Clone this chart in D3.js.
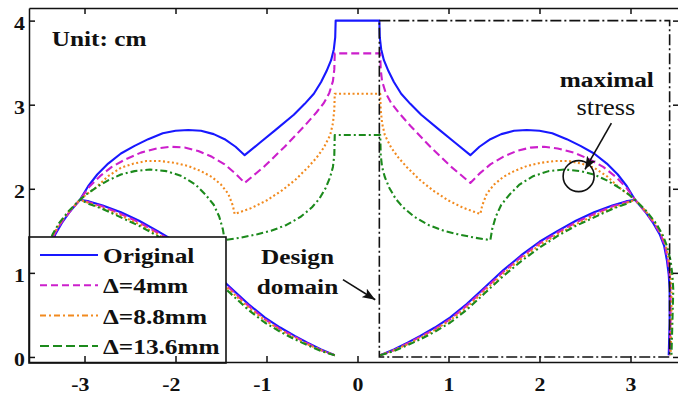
<!DOCTYPE html>
<html>
<head>
<meta charset="utf-8">
<title>Design domain</title>
<script src="https://cdn.jsdelivr.net/npm/d3@7"></script>
<style>
  body { margin: 0; background: #fff; }
  svg { display: block; font-family: "Liberation Serif", "Times New Roman", serif; }
</style>
</head>
<body>
<div id="chart"></div>
<script>
// tick values and series names
var xTicks = [-3, -2, -1, 0, 1, 2, 3];
var yTicks = [0, 1, 2, 3, 4];
var seriesNames = ["Original", "\u0394=4mm", "\u0394=8.8mm", "\u0394=13.6mm"];

// upper outline: right half and left half, each listed from the centre outward
var blueUpperR = [[0.24,4.00],[0.245,3.80],[0.26,3.66],[0.29,3.53],[0.34,3.40],[0.40,3.27],[0.48,3.13],[0.58,3.01],[0.70,2.88],[0.90,2.70],[1.07,2.55],[1.24,2.40],[1.34,2.50],[1.46,2.59],[1.58,2.65],[1.72,2.69],[1.86,2.70],[2.00,2.69],[2.14,2.66],[2.30,2.59],[2.45,2.51],[2.60,2.42],[2.74,2.30],[2.86,2.17],[2.96,2.03],[3.05,1.87],[3.16,1.73],[3.25,1.59],[3.32,1.46],[3.37,1.32],[3.40,1.15],[3.42,0.98],[3.43,0.80],[3.43,0.40],[3.42,0.02]];
var blueUpperL = [[-0.24,4.00],[-0.245,3.80],[-0.26,3.66],[-0.29,3.53],[-0.34,3.40],[-0.40,3.27],[-0.48,3.13],[-0.58,3.01],[-0.70,2.88],[-0.90,2.70],[-1.07,2.55],[-1.24,2.40],[-1.34,2.50],[-1.46,2.59],[-1.58,2.65],[-1.72,2.69],[-1.86,2.70],[-2.00,2.69],[-2.14,2.66],[-2.30,2.59],[-2.45,2.51],[-2.60,2.42],[-2.74,2.30],[-2.86,2.17],[-2.96,2.03],[-3.05,1.87],[-3.16,1.73],[-3.25,1.59],[-3.32,1.46],[-3.37,1.32],[-3.40,1.15],[-3.42,0.98],[-3.43,0.80],[-3.43,0.40],[-3.42,0.02]];
var magUpperR = [[0.25,3.61],[0.255,3.42],[0.27,3.28],[0.31,3.14],[0.37,3.02],[0.45,2.91],[0.58,2.75],[0.80,2.50],[1.02,2.27],[1.24,2.07],[1.34,2.18],[1.46,2.29],[1.60,2.38],[1.75,2.45],[1.90,2.49],[2.05,2.50],[2.20,2.48],[2.38,2.43],[2.55,2.35],[2.70,2.26],[2.83,2.15],[2.95,2.02],[3.05,1.87],[3.16,1.73],[3.26,1.59],[3.33,1.46],[3.38,1.32],[3.41,1.15],[3.43,0.98],[3.44,0.80],[3.44,0.40],[3.43,0.02]];
var magUpperL = [[-0.25,3.61],[-0.255,3.42],[-0.27,3.28],[-0.31,3.14],[-0.37,3.02],[-0.45,2.91],[-0.58,2.75],[-0.80,2.50],[-1.02,2.27],[-1.24,2.07],[-1.34,2.18],[-1.46,2.29],[-1.60,2.38],[-1.75,2.45],[-1.90,2.49],[-2.05,2.50],[-2.20,2.48],[-2.38,2.43],[-2.55,2.35],[-2.70,2.26],[-2.83,2.15],[-2.95,2.02],[-3.05,1.87],[-3.16,1.73],[-3.26,1.59],[-3.33,1.46],[-3.38,1.32],[-3.41,1.15],[-3.43,0.98],[-3.44,0.80],[-3.44,0.40],[-3.43,0.02]];
var orgUpperR = [[0.25,3.13],[0.255,2.94],[0.27,2.78],[0.30,2.64],[0.37,2.49],[0.45,2.37],[0.54,2.26],[0.68,2.11],[0.83,1.98],[1.00,1.86],[1.17,1.77],[1.35,1.70],[1.37,1.80],[1.42,1.94],[1.50,2.05],[1.60,2.14],[1.72,2.21],[1.86,2.27],[2.02,2.31],[2.17,2.33],[2.32,2.33],[2.46,2.30],[2.60,2.25],[2.74,2.15],[2.88,2.01],[2.97,1.94],[3.05,1.87],[3.17,1.73],[3.27,1.59],[3.34,1.46],[3.39,1.32],[3.42,1.15],[3.44,0.98],[3.45,0.80],[3.45,0.40],[3.44,0.02]];
var orgUpperL = [[-0.25,3.13],[-0.255,2.94],[-0.27,2.78],[-0.30,2.64],[-0.37,2.49],[-0.45,2.37],[-0.54,2.26],[-0.68,2.11],[-0.83,1.98],[-1.00,1.86],[-1.17,1.77],[-1.35,1.70],[-1.37,1.80],[-1.42,1.94],[-1.50,2.05],[-1.60,2.14],[-1.72,2.21],[-1.86,2.27],[-2.02,2.31],[-2.17,2.33],[-2.32,2.33],[-2.46,2.30],[-2.60,2.25],[-2.74,2.15],[-2.88,2.01],[-2.97,1.94],[-3.05,1.87],[-3.17,1.73],[-3.27,1.59],[-3.34,1.46],[-3.39,1.32],[-3.42,1.15],[-3.44,0.98],[-3.45,0.80],[-3.45,0.40],[-3.44,0.02]];
var grnUpperR = [[0.25,2.64],[0.255,2.40],[0.27,2.26],[0.30,2.14],[0.35,2.01],[0.42,1.88],[0.50,1.78],[0.62,1.67],[0.78,1.57],[0.95,1.50],[1.10,1.46],[1.28,1.42],[1.46,1.39],[1.48,1.52],[1.52,1.67],[1.58,1.81],[1.67,1.93],[1.78,2.05],[1.93,2.15],[2.10,2.21],[2.28,2.23],[2.45,2.21],[2.60,2.17],[2.74,2.10],[2.85,2.03],[2.96,1.95],[3.05,1.87],[3.17,1.74],[3.28,1.59],[3.35,1.46],[3.40,1.32],[3.44,1.15],[3.46,0.98],[3.47,0.80],[3.46,0.40],[3.45,0.02]];
var grnUpperL = [[-0.25,2.64],[-0.255,2.40],[-0.27,2.26],[-0.30,2.14],[-0.35,2.01],[-0.42,1.88],[-0.50,1.78],[-0.62,1.67],[-0.78,1.57],[-0.95,1.50],[-1.10,1.46],[-1.28,1.42],[-1.46,1.39],[-1.48,1.52],[-1.52,1.67],[-1.58,1.81],[-1.67,1.93],[-1.78,2.05],[-1.93,2.15],[-2.10,2.21],[-2.28,2.23],[-2.45,2.21],[-2.60,2.17],[-2.74,2.10],[-2.85,2.03],[-2.96,1.95],[-3.05,1.87],[-3.17,1.74],[-3.28,1.59],[-3.35,1.46],[-3.40,1.32],[-3.44,1.15],[-3.46,0.98],[-3.47,0.80],[-3.46,0.40],[-3.45,0.02]];

// lower (inner) curves, from the base up to the junction
var blueLowerR = [[0.25,0.02],[0.40,0.09],[0.55,0.17],[0.69,0.25],[0.85,0.35],[1.02,0.47],[1.20,0.63],[1.40,0.83],[1.60,1.03],[1.80,1.21],[2.00,1.37],[2.20,1.50],[2.40,1.62],[2.60,1.72],[2.80,1.80],[2.95,1.85],[3.05,1.87]];
var blueLowerL = [[-0.25,0.02],[-0.40,0.09],[-0.55,0.17],[-0.69,0.25],[-0.85,0.35],[-1.02,0.47],[-1.20,0.63],[-1.40,0.83],[-1.60,1.03],[-1.80,1.21],[-2.00,1.37],[-2.20,1.50],[-2.40,1.62],[-2.60,1.72],[-2.80,1.80],[-2.95,1.85],[-3.05,1.87]];
var magLowerR = [[0.25,0.02],[0.40,0.08],[0.55,0.16],[0.69,0.24],[0.85,0.33],[1.02,0.45],[1.20,0.61],[1.40,0.81],[1.60,1.01],[1.80,1.19],[2.00,1.35],[2.20,1.48],[2.40,1.60],[2.60,1.70],[2.80,1.79],[2.95,1.84],[3.05,1.87]];
var magLowerL = [[-0.25,0.02],[-0.40,0.08],[-0.55,0.16],[-0.69,0.24],[-0.85,0.33],[-1.02,0.45],[-1.20,0.61],[-1.40,0.81],[-1.60,1.01],[-1.80,1.19],[-2.00,1.35],[-2.20,1.48],[-2.40,1.60],[-2.60,1.70],[-2.80,1.79],[-2.95,1.84],[-3.05,1.87]];
var orgLowerR = [[0.25,0.02],[0.40,0.08],[0.55,0.15],[0.69,0.23],[0.85,0.32],[1.02,0.44],[1.20,0.59],[1.40,0.79],[1.60,0.99],[1.80,1.17],[2.00,1.33],[2.20,1.46],[2.40,1.58],[2.60,1.68],[2.80,1.77],[2.95,1.83],[3.05,1.87]];
var orgLowerL = [[-0.25,0.02],[-0.40,0.08],[-0.55,0.15],[-0.69,0.23],[-0.85,0.32],[-1.02,0.44],[-1.20,0.59],[-1.40,0.79],[-1.60,0.99],[-1.80,1.17],[-2.00,1.33],[-2.20,1.46],[-2.40,1.58],[-2.60,1.68],[-2.80,1.77],[-2.95,1.83],[-3.05,1.87]];
var grnLowerR = [[0.25,0.02],[0.40,0.07],[0.55,0.14],[0.69,0.21],[0.85,0.30],[1.02,0.41],[1.20,0.56],[1.40,0.76],[1.60,0.96],[1.80,1.14],[2.00,1.30],[2.20,1.44],[2.40,1.56],[2.60,1.66],[2.80,1.76],[2.95,1.82],[3.05,1.87]];
var grnLowerL = [[-0.25,0.02],[-0.40,0.07],[-0.55,0.14],[-0.69,0.21],[-0.85,0.30],[-1.02,0.41],[-1.20,0.56],[-1.40,0.76],[-1.60,0.96],[-1.80,1.14],[-2.00,1.30],[-2.20,1.44],[-2.40,1.56],[-2.60,1.66],[-2.80,1.76],[-2.95,1.82],[-3.05,1.87]];

// design domain box and annotations (data units)
var designBox = [[0.24, 0], [3.43, 4]];
var notes = [
  {text: "Unit: cm", at: [-3.36, 3.70], anchor: "start", weight: "bold"},
  {text: "maximal", at: [2.74, 3.21], anchor: "middle", weight: "bold"},
  {text: "stress", at: [2.73, 2.88], anchor: "middle", weight: "normal"},
  {text: "Design", at: [-0.66, 1.11], anchor: "middle", weight: "bold"},
  {text: "domain", at: [-0.66, 0.75], anchor: "middle", weight: "bold"}
];
var arrows = [
  {from: [2.79, 2.78], to: [2.50, 2.23]},
  {from: [-0.16, 0.92], to: [0.195, 0.68]}
];
var stressPoint = [2.43, 2.15];

var series = [
  {name: seriesNames[0], color: "#1818ff", dash: null, legendDash: null,
   upperL: blueUpperL, upperR: blueUpperR, lowerL: blueLowerL, lowerR: blueLowerR},
  {name: seriesNames[1], color: "#cc1fcc", dash: "8,4", legendDash: "7,4",
   upperL: magUpperL, upperR: magUpperR, lowerL: magLowerL, lowerR: magLowerR},
  {name: seriesNames[2], color: "#f28a1e", dash: "2,2.5", legendDash: "6,3,2,3",
   upperL: orgUpperL, upperR: orgUpperR, lowerL: orgLowerL, lowerR: orgLowerR},
  {name: seriesNames[3], color: "#1c8a1c", dash: "7,3,2,3", legendDash: "9,4",
   upperL: grnUpperL, upperR: grnUpperR, lowerL: grnLowerL, lowerR: grnLowerR}
];

var W = 678, H = 397;
var SX = 1.15; // glyphs in the picture are a bit wide

var x = d3.scaleLinear().domain([-3.61, 3.533]).range([29, 679]);
var y = d3.scaleLinear().domain([-0.06, 4.15]).range([362, 8]);

var svg = d3.select("#chart").append("svg")
    .attr("width", W)
    .attr("height", H);

svg.append("defs").append("marker")
    .attr("id", "head")
    .attr("viewBox", "0 0 13 10")
    .attr("refX", 13).attr("refY", 5)
    .attr("markerWidth", 13).attr("markerHeight", 10)
    .attr("markerUnits", "userSpaceOnUse")
    .attr("orient", "auto")
  .append("path")
    .attr("d", "M0,0 L13,5 L0,10 L3,5 Z")
    .attr("fill", "#111");

function label(g, px, py, s, size, weight, anchor) {
  return g.append("text")
      .attr("transform", "translate(" + px + "," + py + ") scale(" + SX + ",1)")
      .attr("text-anchor", anchor || "start")
      .style("font-size", size + "px")
      .style("font-weight", weight || "bold")
      .attr("fill", "#111")
      .text(s);
}

var line = d3.line()
    .x(function(d) { return x(d[0]); })
    .y(function(d) { return y(d[1]); });

// curves
var curves = svg.append("g");
series.forEach(function(s) {
  var upper = s.upperL.slice().reverse().concat(s.upperR);
  [upper, s.lowerL, s.lowerR].forEach(function(pts) {
    curves.append("path")
        .attr("d", line(pts))
        .attr("fill", "none")
        .attr("stroke", s.color)
        .attr("stroke-width", 2.1)
        .attr("stroke-dasharray", s.dash)
        .attr("stroke-linejoin", "round");
  });
});

// design domain
svg.append("rect")
    .attr("x", x(designBox[0][0]))
    .attr("y", y(designBox[1][1]))
    .attr("width", x(designBox[1][0]) - x(designBox[0][0]))
    .attr("height", y(designBox[0][1]) - y(designBox[1][1]))
    .attr("fill", "none")
    .attr("stroke", "#111")
    .attr("stroke-width", 1.6)
    .attr("stroke-dasharray", "11,3,2,3");

// annotations
var ann = svg.append("g");
notes.forEach(function(n) {
  label(ann, x(n.at[0]), y(n.at[1]), n.text, n.weight === "bold" ? 22 : 23, n.weight, n.anchor);
});
arrows.forEach(function(a) {
  ann.append("line")
      .attr("x1", x(a.from[0])).attr("y1", y(a.from[1]))
      .attr("x2", x(a.to[0])).attr("y2", y(a.to[1]))
      .attr("stroke", "#111")
      .attr("stroke-width", 1.6)
      .attr("marker-end", "url(#head)");
});
ann.append("circle")
    .attr("cx", x(stressPoint[0]))
    .attr("cy", y(stressPoint[1]))
    .attr("r", 15.5)
    .attr("fill", "none")
    .attr("stroke", "#111")
    .attr("stroke-width", 1.6);

// legend
var legend = svg.append("g").attr("transform", "translate(29,237)");
legend.append("rect")
    .attr("width", 197)
    .attr("height", 126)
    .attr("fill", "#fff")
    .attr("stroke", "#111")
    .attr("stroke-width", 1.6);
series.forEach(function(s, i) {
  var ly = 18 + i * 30.3;
  legend.append("line")
      .attr("x1", 11).attr("x2", 69)
      .attr("y1", ly).attr("y2", ly)
      .attr("stroke", s.color)
      .attr("stroke-width", 2)
      .attr("stroke-dasharray", s.legendDash);
  label(legend, 74, ly + 8, s.name, 22, "bold");
});

// axes box with inward ticks
function styleAxis(g) {
  g.attr("font-family", null).attr("font-size", null);
  g.selectAll("path, line").attr("stroke", "#111").attr("stroke-width", 1.5);
}
var plain = function(d) { return String(d); };

svg.append("g")
    .attr("transform", "translate(0," + y.range()[0] + ")")
    .call(d3.axisBottom(x).tickValues(xTicks).tickSize(-6).tickSizeOuter(0).tickFormat(plain))
    .call(styleAxis)
    .call(function(g) {
      g.selectAll("text")
          .attr("y", null).attr("dy", null)
          .attr("transform", "translate(0,29) scale(" + SX + ",1)")
          .attr("dx", function(d) { return d < 0 ? -4 : 0; })
          .attr("fill", "#111")
          .style("font-size", "19px")
          .style("font-weight", "bold");
    });

svg.append("g")
    .attr("transform", "translate(0," + y.range()[1] + ")")
    .call(d3.axisTop(x).tickValues(xTicks).tickSize(-6).tickSizeOuter(0).tickFormat(""))
    .call(styleAxis);

svg.append("g")
    .attr("transform", "translate(" + x.range()[0] + ",0)")
    .call(d3.axisLeft(y).tickValues(yTicks).tickSize(-6).tickSizeOuter(0).tickFormat(plain))
    .call(styleAxis)
    .call(function(g) {
      g.selectAll("text")
          .attr("x", null).attr("dy", null)
          .attr("transform", "translate(-4,9) scale(" + SX + ",1)")
          .attr("fill", "#111")
          .style("font-size", "19px")
          .style("font-weight", "bold");
    });

svg.append("g")
    .attr("transform", "translate(" + x.range()[1] + ",0)")
    .call(d3.axisRight(y).tickValues(yTicks).tickSize(-6).tickSizeOuter(0).tickFormat(""))
    .call(styleAxis);
</script>
</body>
</html>
